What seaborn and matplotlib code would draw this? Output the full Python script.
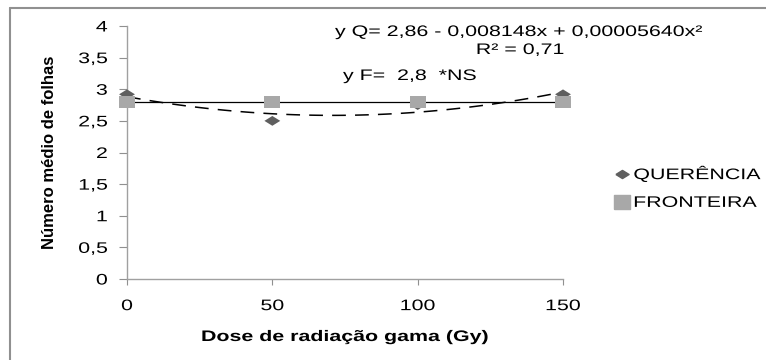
import numpy as np
import pandas as pd
import matplotlib
matplotlib.use('Agg')
import matplotlib.pyplot as plt
import seaborn as sns
from matplotlib.lines import Line2D
from matplotlib.patheffects import AbstractPathEffect
from matplotlib.transforms import Affine2D

# dados
doses = [0, 50, 100, 150]
querencia = [2.92, 2.5, 2.75, 2.92]
fronteira = [2.8, 2.8, 2.8, 2.8]
y_ticks = [0, 0.5, 1, 1.5, 2, 2.5, 3, 3.5, 4]
y_tick_labels = ['0', '0,5', '1', '1,5', '2', '2,5', '3', '3,5', '4']
x_ticks = [0, 50, 100, 150]

df_q = pd.DataFrame({'dose': doses, 'folhas': querencia})
df_f = pd.DataFrame({'dose': doses, 'folhas': fronteira})


# o grafico original foi esticado na horizontal, entao o texto tambem
class Esticar(AbstractPathEffect):
    def __init__(self, sx=1.4, ancora='left'):
        super().__init__()
        self.sx = sx
        self.ancora = ancora

    def draw_path(self, renderer, gc, tpath, affine, rgbFace=None):
        bb = tpath.get_extents(affine)
        if self.ancora == 'left':
            x0 = bb.x0
        elif self.ancora == 'right':
            x0 = bb.x1
        else:
            x0 = (bb.x0 + bb.x1) / 2
        novo = affine + Affine2D().translate(-x0, 0).scale(self.sx, 1).translate(x0, 0)
        renderer.draw_path(gc, tpath, novo, rgbFace)


SX = 1.4

sns.set_style('white')
plt.rcParams['font.family'] = ['Liberation Sans', 'DejaVu Sans']
plt.rcParams['text.color'] = 'black'

fig = plt.figure(figsize=(7.66, 3.60), dpi=100)
ax = fig.add_axes([127 / 766, 1 - 279 / 360, (563 - 127) / 766, (279 - 26) / 360])

cor_q = '#5f5f5f'
cor_f = '#a8a8a8'

# marcadores achatados como no original
losango = [(-1, 0), (0, 0.62), (1, 0), (0, -0.62), (-1, 0)]
quadrado = [(-1, -0.72), (1, -0.72), (1, 0.72), (-1, 0.72), (-1, -0.72)]
quadrado_leg = [(-1, -0.8), (1, -0.8), (1, 0.8), (-1, 0.8), (-1, -0.8)]

# linhas de tendencia
sns.regplot(data=df_q, x='dose', y='folhas', order=2, ci=None, scatter=False, ax=ax,
            truncate=True, line_kws={'color': 'black', 'lw': 1.1, 'ls': (0, (9, 6))})
sns.regplot(data=df_f, x='dose', y='folhas', ci=None, scatter=False, ax=ax,
            truncate=True, line_kws={'color': 'black', 'lw': 0.9})

# pontos
sns.scatterplot(data=df_q, x='dose', y='folhas', marker=losango, s=130, color=cor_q,
                edgecolor='none', linewidth=0, ax=ax, clip_on=False, zorder=4)
sns.scatterplot(data=df_f, x='dose', y='folhas', marker=quadrado, s=135, color=cor_f,
                edgecolor='none', linewidth=0, ax=ax, clip_on=False, zorder=5)

ax.set_xlim(0, 150)
ax.set_ylim(0, 4)
ax.set_xticks(x_ticks)
ax.set_xticklabels([str(v) for v in x_ticks], fontsize=11, color='black')
ax.set_yticks(y_ticks)
ax.set_yticklabels(y_tick_labels, fontsize=11, color='black')
ax.tick_params(axis='both', direction='out', width=0.8, color='#909090',
               left=True, bottom=True)
ax.tick_params(axis='y', length=6, pad=8)
ax.tick_params(axis='x', length=4.5, pad=10)

sns.despine(ax=ax)
for s in ['left', 'bottom']:
    ax.spines[s].set_color('#a0a0a0')
    ax.spines[s].set_linewidth(1.0)

ax.set_xlabel('Dose de radiação gama (Gy)', fontsize=11, fontweight='bold', color='black')
ax.set_ylabel('Número médio de folhas', fontsize=12, fontweight='bold', color='black')
ax.xaxis.set_label_coords(0.5, (279 - 330) / 253)
ax.yaxis.set_label_coords((57 - 127) / 436, 0.5)

# equacoes
t1 = fig.text(335 / 766, 1 - 32 / 360, 'y Q= 2,86 - 0,008148x + 0,00005640x²', fontsize=11, va='center')
t2 = fig.text(520 / 766, 1 - 50 / 360, 'R² = 0,71', fontsize=11, va='center', ha='center')
t3 = fig.text(343 / 766, 1 - 76 / 360, 'y F=  2,8  *NS', fontsize=11, va='center')

# legenda
handles = [
    Line2D([], [], marker=losango, color=cor_q, ls='none', markersize=9.5),
    Line2D([], [], marker=quadrado_leg, color=cor_f, ls='none', markersize=12),
]
leg = fig.legend(handles, ['QUERÊNCIA', 'FRONTEIRA'], loc='center left',
                 bbox_to_anchor=(613 / 766, 1 - 188 / 360), frameon=False, fontsize=11,
                 borderpad=0, borderaxespad=0,
                 handlelength=1.2, handletextpad=0.15, labelspacing=0.9)

# moldura
fig.add_artist(Line2D([10 / 766, 10 / 766], [0, 1 - 8 / 360], transform=fig.transFigure,
                      color='#909090', lw=1.5))
fig.add_artist(Line2D([10 / 766, 1], [1 - 8 / 360, 1 - 8 / 360], transform=fig.transFigure,
                      color='#909090', lw=1.5))

fig.canvas.draw()
for t in [t1, t3] + leg.get_texts():
    t.set_path_effects([Esticar(SX, 'left')])
t2.set_path_effects([Esticar(SX, 'center')])
ax.xaxis.label.set_path_effects([Esticar(SX, 'center')])
for t in ax.get_xticklabels():
    t.set_path_effects([Esticar(SX, 'center')])
for t in ax.get_yticklabels():
    t.set_path_effects([Esticar(SX, 'right')])

fig.savefig('out.png', dpi=100)
